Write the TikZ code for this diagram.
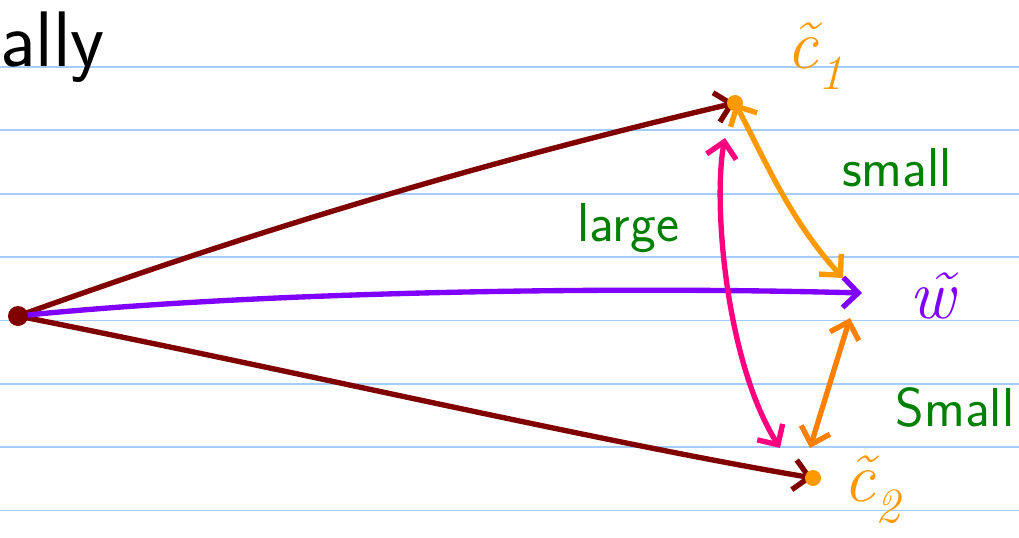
\documentclass[tikz,border=0pt]{standalone}
\usepackage{fontspec}
\usepackage{tikz}
\usetikzlibrary{arrows.meta, positioning, calc}
\definecolor{ruleblue}{RGB}{165,205,250}
\definecolor{vecred}{RGB}{128,0,0}
\definecolor{vecpurple}{RGB}{128,0,255}
\definecolor{vecpink}{RGB}{255,0,128}
\definecolor{veclight}{RGB}{255,153,0}
\definecolor{vecdark}{RGB}{255,128,0}
\definecolor{notegreen}{RGB}{0,128,0}
\tikzset{
  rule/.style={ruleblue, line width=1.3pt},
  vec/.style={line width=3.8pt, line cap=round, line join=round},
  tip/.style={-{Straight Barb[length=3.8mm, width=7.5mm]}},
  dtip/.style={{Straight Barb[length=3.8mm, width=7.5mm]}-{Straight Barb[length=3.8mm, width=7.5mm]}},
  word/.style={font=\sffamily\fontsize{39}{44}\selectfont, text=notegreen, inner sep=0pt},
  sym/.style={font=\itshape\fontsize{50}{56}\selectfont, inner sep=0pt},
  blob/.style={circle, inner sep=0pt, minimum size=0.4cm},
}

\begin{document}
\begin{tikzpicture}[x=0.025cm, y=-0.025cm]
  \useasboundingbox (0,0) rectangle (1019,538);
  % Ruled paper
  \foreach \y in {67,130,194,257,320.5,384,447,510.5}
    \draw[rule] (0,\y) -- (1019,\y);

  % Points
  \coordinate (O) at (18,316);
  \coordinate (c1) at (735,103);
  \coordinate (c2) at (813,478);
  \coordinate (w) at (862,293);
  \coordinate (c1low) at (725,138);
  \coordinate (c2pink) at (780,448);
  \coordinate (wup) at (843,278);
  \coordinate (wdown) at (850,318);
  \coordinate (c2orange) at (810,448);

  % Labels
  \node[font=\sffamily\fontsize{56}{62}\selectfont, anchor=base west, inner sep=0pt] (title) at (0,67) {ally};
  \node[sym, text=veclight] (c1lab) at (815,56) {\~{c}\textsubscript{1}};
  \node[sym, text=veclight] (c2lab) at (872,490) {\~{c}\textsubscript{2}};
  \node[sym, text=vecpurple] (wlab) at (932,296) {\~{w}};
  \node[word] (small1) at (897,168) {small};
  \node[word] (large) at (628,228) {large};
  \node[word] (small2) at (955,407) {Small};

  % Vectors from the origin
  \draw[vec, tip, vecred] (O) .. controls (230,240) and (450,170) .. (c1);
  \draw[vec, tip, vecred] (O) .. controls (300,372) and (600,442) .. (c2);
  \draw[vec, tip, vecpurple] (O) .. controls (250,292) and (600,286) .. (w);

  % Distances
  \draw[vec, dtip, vecpink] (c1low) .. controls (713,200) and (725,360) .. (c2pink);
  \draw[vec, dtip, veclight] (c1) .. controls (765,160) and (790,220) .. (wup);
  \draw[vec, dtip, vecdark] (wdown) -- (c2orange);

  % Dots
  \node[blob, fill=vecred, minimum size=0.5cm] (odot) at (O) {};
  \node[blob, fill=veclight] (c1dot) at (c1) {};
  \node[blob, fill=veclight] (c2dot) at (c2) {};
\end{tikzpicture}
\end{document}
